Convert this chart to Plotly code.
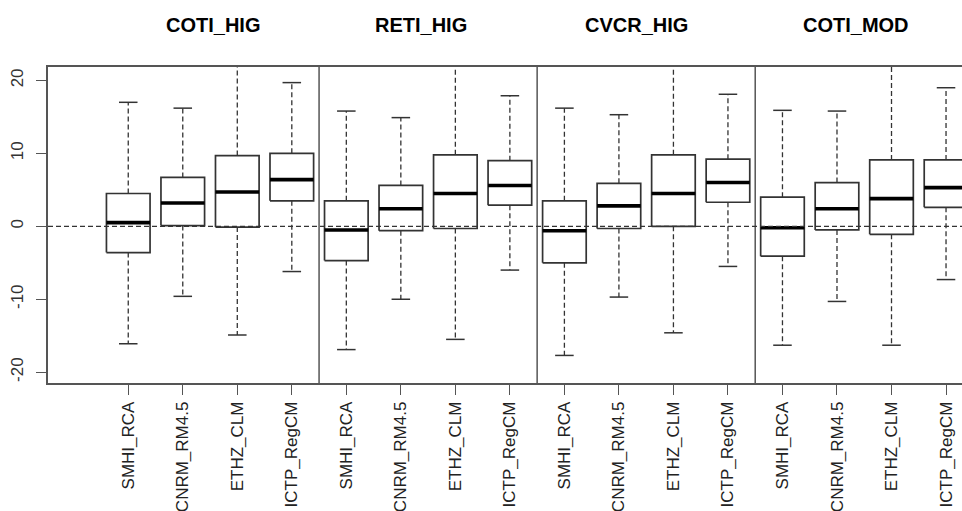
import plotly.graph_objects as go

# Regional climate models shown in every panel, and the scenario panels
models = ["SMHI_RCA", "CNRM_RM4.5", "ETHZ_CLM", "ICTP_RegCM"]
scenarios = ["COTI_HIG", "RETI_HIG", "CVCR_HIG", "COTI_MOD"]

# Box statistics per scenario, one value per model (same order as `models`)
whisker_low = {
    "COTI_HIG": [-16.1, -9.6, -14.9, -6.2],
    "RETI_HIG": [-16.9, -10.0, -15.5, -6.0],
    "CVCR_HIG": [-17.7, -9.7, -14.6, -5.5],
    "COTI_MOD": [-16.3, -10.3, -16.3, -7.3],
}
q1 = {
    "COTI_HIG": [-3.6, 0.1, -0.1, 3.5],
    "RETI_HIG": [-4.7, -0.6, -0.3, 2.9],
    "CVCR_HIG": [-5.0, -0.3, 0.0, 3.3],
    "COTI_MOD": [-4.1, -0.5, -1.1, 2.6],
}
median = {
    "COTI_HIG": [0.5, 3.2, 4.7, 6.4],
    "RETI_HIG": [-0.5, 2.4, 4.5, 5.6],
    "CVCR_HIG": [-0.6, 2.8, 4.5, 6.0],
    "COTI_MOD": [-0.2, 2.4, 3.8, 5.3],
}
q3 = {
    "COTI_HIG": [4.5, 6.7, 9.7, 10.0],
    "RETI_HIG": [3.5, 5.6, 9.8, 9.0],
    "CVCR_HIG": [3.5, 5.9, 9.8, 9.2],
    "COTI_MOD": [4.0, 6.0, 9.1, 9.1],
}
whisker_high = {
    "COTI_HIG": [17.0, 16.2, 22.5, 19.7],
    "RETI_HIG": [15.8, 14.9, 22.5, 17.9],
    "CVCR_HIG": [16.2, 15.3, 22.5, 18.1],
    "COTI_MOD": [15.9, 15.8, 22.5, 19.0],
}
y_ticks = [-20, -10, 0, 10, 20]

BOX_HALF = 0.4     # half box width in axis units
CAP_HALF = 0.17    # half staple width
FONT = "Liberation Sans, Arial, sans-serif"
EDGE = "#333333"

n_mod = len(models)
positions, labels = [], []
bx, by, mx, my, wx, wy, cx, cy = [], [], [], [], [], [], [], []

for g, sc in enumerate(scenarios):
    for m in range(n_mod):
        x = g * n_mod + m + 1
        positions.append(x)
        labels.append(models[m])
        lo, a, med, b, hi = (whisker_low[sc][m], q1[sc][m], median[sc][m],
                             q3[sc][m], whisker_high[sc][m])
        # box outline
        bx += [x - BOX_HALF, x + BOX_HALF, x + BOX_HALF, x - BOX_HALF, x - BOX_HALF, None]
        by += [a, a, b, b, a, None]
        # median bar
        mx += [x - BOX_HALF, x + BOX_HALF, None]
        my += [med, med, None]
        # dashed whiskers
        wx += [x, x, None, x, x, None]
        wy += [b, hi, None, a, lo, None]
        # staples
        cx += [x - CAP_HALF, x + CAP_HALF, None, x - CAP_HALF, x + CAP_HALF, None]
        cy += [hi, hi, None, lo, lo, None]

fig = go.Figure()
fig.add_trace(go.Scatter(x=wx, y=wy, mode="lines", hoverinfo="skip",
                         line=dict(color=EDGE, width=1.3, dash="5px,3px")))
fig.add_trace(go.Scatter(x=cx, y=cy, mode="lines", hoverinfo="skip",
                         line=dict(color=EDGE, width=1.5)))
fig.add_trace(go.Scatter(x=bx, y=by, mode="lines", hoverinfo="skip",
                         fill="toself", fillcolor="white",
                         line=dict(color=EDGE, width=1.7)))
fig.add_trace(go.Scatter(x=mx, y=my, mode="lines", hoverinfo="skip",
                         line=dict(color="black", width=3.6)))

# panel separators between scenario groups
for g in range(1, len(scenarios)):
    sep = g * n_mod + 0.5
    fig.add_shape(type="line", xref="x", yref="paper", x0=sep, x1=sep, y0=0, y1=1,
                  line=dict(color="#555555", width=1.5))

# dashed reference line at zero
fig.add_shape(type="line", xref="paper", yref="y", x0=0, x1=1, y0=0, y1=0,
              line=dict(color=EDGE, width=1.3, dash="5px,3px"))

# scenario titles above each panel
title_nudge = [3, -7, -10, -8]
for g, sc in enumerate(scenarios):
    centre = g * n_mod + (n_mod + 1) / 2
    fig.add_annotation(x=centre, xref="x", y=1.134, yref="paper",
                       text="<b>" + sc + "</b>", showarrow=False,
                       xshift=title_nudge[g], yanchor="middle",
                       font=dict(family=FONT, size=20, color="black"))

fig.update_layout(
    width=962, height=511,
    margin=dict(l=48, r=0, t=67, b=128),
    paper_bgcolor="white", plot_bgcolor="white",
    showlegend=False,
    font=dict(family=FONT, color="#222222"),
)
fig.update_xaxes(
    range=[-0.472, 16.293], tickmode="array", tickvals=positions, ticktext=labels,
    tickangle=-90, ticks="outside", ticklen=10, tickcolor="#555555", tickwidth=1.2,
    tickfont=dict(family=FONT, size=17, color="#222222"),
    showgrid=False, zeroline=False, showline=True, mirror=True,
    linecolor="#555555", linewidth=1.6,
)
fig.update_yaxes(
    range=[-21.48, 21.84], tickmode="array", tickvals=y_ticks,
    ticktext=[str(v) for v in y_ticks],
    tickangle=-90, ticks="outside", ticklen=10, tickcolor="#555555", tickwidth=1.2,
    tickfont=dict(family=FONT, size=17, color="#333333"), ticklabelstandoff=6,
    showgrid=False, zeroline=False, showline=True, mirror=False,
    linecolor="#555555", linewidth=1.6,
)

fig.write_html("out.html")
